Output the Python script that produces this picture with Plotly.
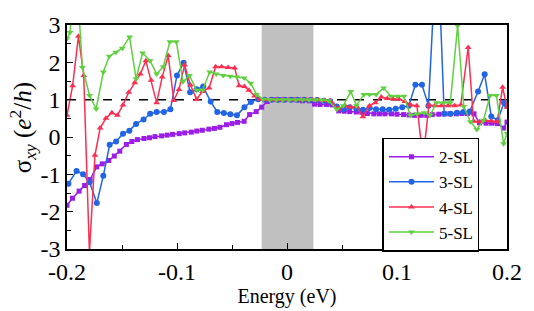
import plotly.graph_objects as go

# ---------------- data ----------------
E_2SL = [-0.200, -0.195, -0.189, -0.184, -0.179, -0.173, -0.168, -0.162, -0.157, -0.152,
         -0.146, -0.141, -0.136, -0.130, -0.125, -0.120, -0.114, -0.109, -0.104, -0.098,
         -0.093, -0.087, -0.082, -0.077, -0.071, -0.066, -0.061, -0.055, -0.050, -0.045,
         -0.039, -0.034, -0.028, -0.023, -0.018, -0.012, -0.007, -0.002, 0.004, 0.009,
         0.014, 0.020, 0.025, 0.030, 0.036, 0.041, 0.047, 0.052, 0.057, 0.063,
         0.068, 0.073, 0.079, 0.084, 0.089, 0.095, 0.100, 0.106, 0.111, 0.116,
         0.122, 0.127, 0.132, 0.138, 0.143, 0.148, 0.154, 0.159, 0.164, 0.170,
         0.175, 0.181, 0.186, 0.191, 0.197, 0.200]
S_2SL = [-1.83, -1.64, -1.45, -1.30, -1.14, -0.80, -0.72, -0.63, -0.51, -0.38,
         -0.20, -0.12, -0.07, -0.04, -0.02, 0.01, 0.03, 0.05, 0.07, 0.09,
         0.11, 0.13, 0.16, 0.18, 0.21, 0.23, 0.26, 0.33, 0.36, 0.39,
         0.42, 0.60, 0.68, 0.80, 0.95, 1.00, 1.00, 1.00, 1.00, 0.99,
         0.97, 0.97, 0.88, 0.87, 0.87, 0.86, 0.70, 0.69, 0.68, 0.67,
         0.66, 0.63, 0.62, 0.62, 0.62, 0.62, 0.61, 0.60, 0.59, 0.58,
         0.58, 0.58, 0.60, 0.61, 0.62, 0.62, 0.62, 0.63, 0.63, 0.62,
         0.38, 0.37, 0.37, 0.36, 0.24, 0.40]

E_3SL = [-0.1987, -0.1913, -0.1854, -0.1795, -0.1729, -0.1670, -0.1612, -0.1554, -0.1491, -0.1433,
         -0.1372, -0.1304, -0.1244, -0.1185, -0.1119, -0.1060, -0.1000, -0.0940, -0.0881, -0.0821,
         -0.0762, -0.0694, -0.0634, -0.0574, -0.0515, -0.0455, -0.0387, -0.0328, -0.0262, -0.0202,
         -0.0143, -0.0083, -0.0023, 0.0036, 0.0096, 0.0155, 0.0214, 0.0274, 0.0334, 0.0393,
         0.0453, 0.0513, 0.0571, 0.0631, 0.0691, 0.0750, 0.0810, 0.0870, 0.0929, 0.0988,
         0.1048, 0.1107, 0.1167, 0.1227, 0.1286, 0.1366, 0.1429, 0.1487, 0.1545, 0.1603,
         0.1661, 0.1737, 0.1797, 0.1857, 0.1915, 0.1973, 0.2000]
S_3SL = [-1.25, -0.91, -1.00, -1.21, -1.77, -1.04, -0.21, -0.12, 0.09, 0.17,
         0.35, 0.47, 0.62, 0.67, 0.67, 0.74, 1.65, 1.99, 1.20, 1.28,
         1.35, 0.95, 0.67, 0.64, 0.61, 0.58, 0.80, 0.94, 1.01, 1.00,
         1.00, 1.00, 1.00, 1.00, 1.00, 1.00, 0.99, 0.99, 0.97, 0.96,
         0.82, 0.74, 0.80, 0.76, 0.73, 0.78, 0.74, 0.74, 0.73, 0.76,
         0.80, 0.84, 1.40, 1.40, 0.84, 5.50, 0.62, 0.62, 0.65, 0.67,
         0.68, 1.22, 1.68, 0.55, 0.45, 0.92, 0.84]

E_4SL = [-0.2000, -0.1949, -0.1896, -0.1848, -0.1796, -0.1746, -0.1699, -0.1646, -0.1592, -0.1542,
         -0.1491, -0.1438, -0.1384, -0.1333, -0.1283, -0.1235, -0.1185, -0.1134, -0.1080, -0.1029,
         -0.0982, -0.0931, -0.0878, -0.0821, -0.0768, -0.0708, -0.0649, -0.0594, -0.0536, -0.0476,
         -0.0435, -0.0387, -0.0346, -0.0295, -0.0247, -0.0196, -0.0143, -0.0089, -0.0036, 0.0018,
         0.0071, 0.0125, 0.0179, 0.0232, 0.0286, 0.0339, 0.0393, 0.0467, 0.0527, 0.0580,
         0.0634, 0.0690, 0.0750, 0.0804, 0.0857, 0.0911, 0.0964, 0.1018, 0.1071, 0.1125,
         0.1181, 0.1237, 0.1290, 0.1344, 0.1402, 0.1464, 0.1524, 0.1580, 0.1647, 0.1696,
         0.1750, 0.1804, 0.1857, 0.1911, 0.1960, 0.2000]
S_4SL = [0.58, 1.37, 2.70, 1.65, -3.10, -0.49, 0.24, 0.50, 0.65, 0.58,
         0.86, 1.20, 1.45, 1.69, 2.04, 1.52, 0.92, 1.61, 2.18, 0.98,
         1.27, 1.93, 1.39, 1.01, 1.22, 1.31, 1.88, 1.88, 1.86, 1.85,
         1.37, 1.35, 1.25, 1.10, 1.01, 1.00, 1.00, 1.00, 1.00, 1.00,
         1.00, 1.00, 1.00, 1.00, 0.99, 0.98, 0.97, 0.75, 0.84, 0.80,
         0.82, 0.54, 0.84, 0.92, 1.07, 1.03, 1.02, 1.02, 0.95, 0.86,
         0.84, -0.60, 0.86, 0.84, 0.84, 0.84, 0.84, 0.86, 2.40, 0.42,
         0.41, 0.44, 0.43, 0.41, 1.33, 0.80]

E_5SL = [-0.2000, -0.1973, -0.1920, -0.1860, -0.1795, -0.1735, -0.1670, -0.1616, -0.1556, -0.1497,
         -0.1431, -0.1372, -0.1313, -0.1244, -0.1185, -0.1125, -0.1065, -0.1006, -0.0946, -0.0887,
         -0.0821, -0.0768, -0.0703, -0.0643, -0.0580, -0.0515, -0.0455, -0.0390, -0.0330, -0.0277,
         -0.0217, -0.0157, -0.0098, -0.0038, 0.0021, 0.0080, 0.0140, 0.0200, 0.0259, 0.0319,
         0.0379, 0.0453, 0.0512, 0.0580, 0.0631, 0.0699, 0.0750, 0.0810, 0.0878, 0.0944,
         0.1003, 0.1063, 0.1122, 0.1181, 0.1247, 0.1301, 0.1360, 0.1426, 0.1485, 0.1551,
         0.1607, 0.1667, 0.1726, 0.1786, 0.1846, 0.1904, 0.1969, 0.2000]
S_5SL = [2.63, 2.80, 4.70, 1.86, 1.11, 0.75, 1.74, 2.16, 2.27, 2.38,
         2.68, 1.56, 2.25, 2.04, 1.69, 1.88, 2.55, 2.55, 1.48, 1.65,
         1.25, 1.25, 1.74, 1.69, 1.65, 1.63, 1.61, 1.58, 1.44, 1.14,
         1.01, 1.00, 1.00, 1.00, 1.00, 1.00, 1.00, 1.00, 1.00, 0.99,
         0.97, 0.74, 0.84, 1.22, 0.84, 1.14, 1.14, 1.14, 1.31, 1.09,
         1.09, 1.09, 0.58, 0.62, 0.65, 0.58, 0.92, 0.92, 0.92, 2.98,
         0.82, 0.41, 0.20, 0.45, 1.11, 1.11, -0.18, 0.10]

GAP = [-0.023, 0.024]          # shaded gap region (eV)
QUANT = 1.0                    # quantized plateau level

X_TICKS = [-0.2, -0.1, 0, 0.1, 0.2]
X_TICKTEXT = ["-0.2", "-0.1", "0", "0.1", "0.2"]
Y_TICKS = [-3, -2, -1, 0, 1, 2, 3]
Y_TICKTEXT = ["-3", "-2", "-1", "0", "1", "2", "3"]

# ---------------- figure ----------------
SERIF = "Times New Roman, Liberation Serif, DejaVu Serif, serif"
series = [
    ("2-SL", E_2SL, S_2SL, "#9a1ee8", "square", 5),
    ("3-SL", E_3SL, S_3SL, "#2164e6", "circle", 6),
    ("4-SL", E_4SL, S_4SL, "#fb2f52", "triangle-up", 6),
    ("5-SL", E_5SL, S_5SL, "#5fd13f", "triangle-down", 6),
]

fig = go.Figure()
for name, ex, sy, col, sym, msz in series:
    fig.add_trace(go.Scatter(
        x=ex, y=sy, name=name, mode="lines+markers",
        line=dict(color=col, width=1.5),
        marker=dict(color=col, symbol=sym, size=msz, line=dict(width=0)),
        cliponaxis=True,
    ))

fig.add_shape(type="rect", xref="x", yref="paper", x0=GAP[0], x1=GAP[1], y0=0, y1=1,
              fillcolor="#c0c0c0", line=dict(width=0), layer="below")
fig.add_shape(type="line", xref="paper", yref="y", x0=0, x1=1, y0=QUANT, y1=QUANT,
              line=dict(color="black", width=1.5, dash="dash"), layer="below")

axis_common = dict(
    showline=True, linecolor="black", linewidth=1.5, mirror=True,
    ticks="inside", ticklen=6, tickwidth=1.2, tickcolor="black",
    showgrid=False, zeroline=False,
    tickfont=dict(family=SERIF, size=24, color="black"),
)
fig.update_xaxes(range=[-0.2, 0.2], tickvals=X_TICKS, ticktext=X_TICKTEXT,
                 minor=dict(ticks="inside", ticklen=4, tickwidth=1.2, tickcolor="black", dtick=0.05,
                            tick0=0, showgrid=False),
                 title=dict(text="Energy (eV)", font=dict(family=SERIF, size=20, color="black"),
                            standoff=0),
                 **axis_common)
fig.update_yaxes(range=[-3, 3], tickvals=Y_TICKS, ticktext=Y_TICKTEXT,
                 minor=dict(ticks="inside", ticklen=4, tickwidth=1.2, tickcolor="black", dtick=0.5,
                            tick0=0, showgrid=False),
                 title=dict(text="&nbsp;&nbsp;&nbsp;σ<sub><i>xy</i></sub> (<i>e</i><sup>2</sup>/<i>h</i>)",
                            font=dict(family=SERIF, size=25, color="black"), standoff=0),
                 **axis_common)

fig.update_layout(
    width=534, height=311,
    margin=dict(l=67, r=18, t=15, b=61),
    paper_bgcolor="white", plot_bgcolor="white",
    font=dict(family=SERIF, color="black"),
    legend=dict(x=0.717, y=0.497, xanchor="left", yanchor="top",
                bgcolor="white", bordercolor="black", borderwidth=1.5,
                font=dict(family=SERIF, size=17, color="black"),
                tracegroupgap=0, itemwidth=45),
)

fig.write_html("out.html")
